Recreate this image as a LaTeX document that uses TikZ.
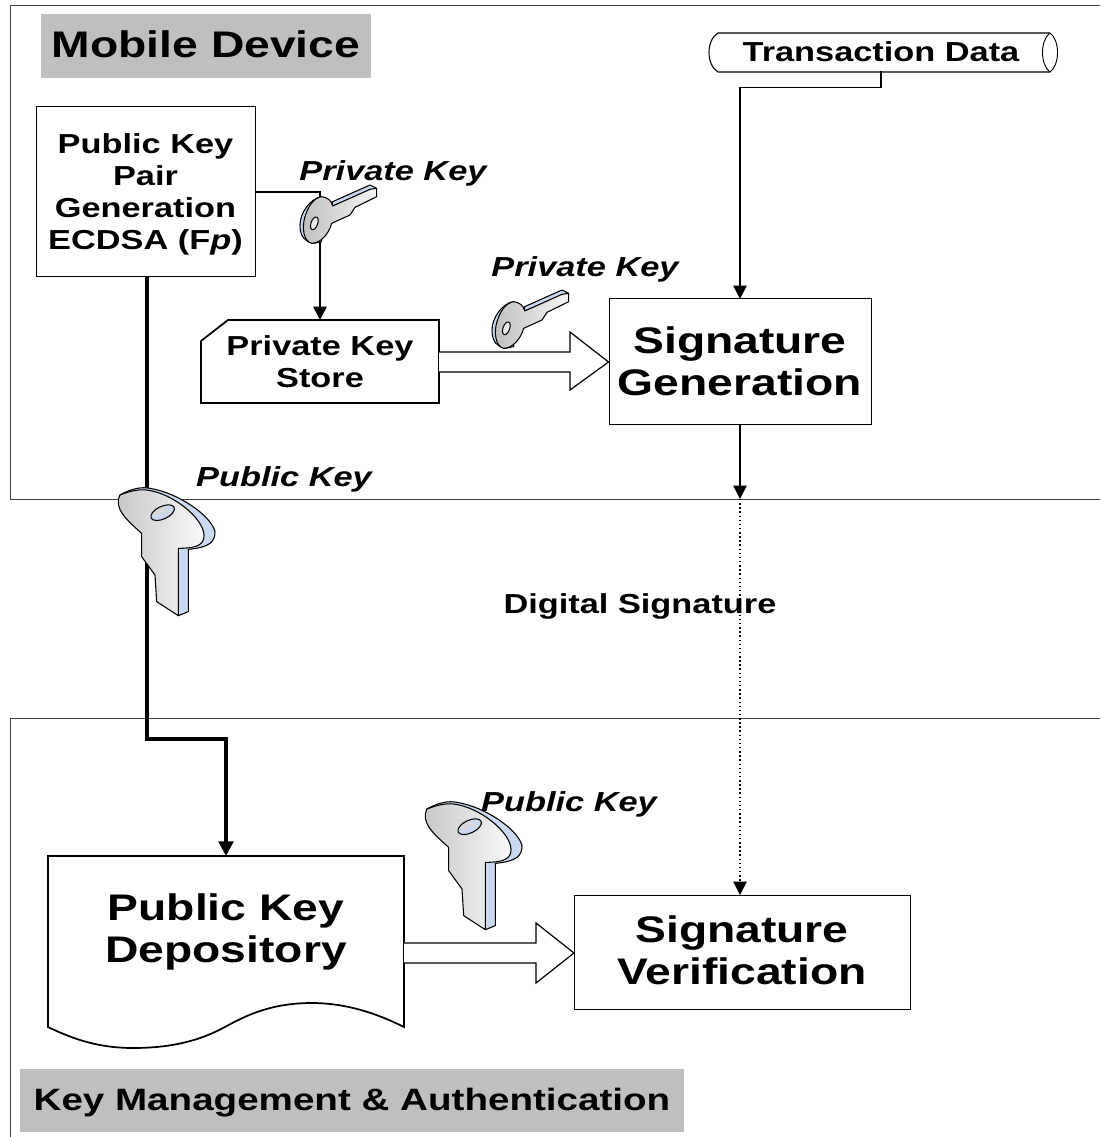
\documentclass[tikz,border=0pt]{standalone}
\usepackage{fontspec}
\setmainfont[FakeStretch=1.25]{Liberation Sans}
\usetikzlibrary{arrows.meta,calc}
\definecolor{keyblue}{HTML}{CBD9F0}
\definecolor{labelgrey}{HTML}{BFBFBF}
\definecolor{framegrey}{HTML}{404040}
\tikzset{
  every node/.style={font=\bfseries,align=center,inner sep=0pt,outer sep=0pt},
  small/.style={font=\fontsize{20.6pt}{24pt}\selectfont\bfseries},
  large/.style={font=\fontsize{27.75pt}{31.5pt}\selectfont\bfseries},
  itl/.style={font=\fontsize{20.6pt}{24pt}\selectfont\bfseries\itshape},
  boxed/.style={draw=black,line width=.75pt,fill=white},
  heavybox/.style={draw=black,line width=1.3pt,fill=white,line join=miter},
  frameline/.style={draw=framegrey,line width=.6pt},
  arr/.style={draw=black,line width=1.3pt,-{Triangle[length=10pt,width=10pt]}},
  thickarr/.style={draw=black,line width=2.6pt,-{Triangle[length=11pt,width=11pt]}},
  plain/.style={draw=black,line width=.8pt},
  blockarrow/.style={draw=black,line width=.9pt,fill=white,line join=miter},
  keyline/.style={draw=black,line width=.8pt,line join=round},
  bigkey/.pic={
    \begin{scope}[x=.25pt,y=-.25pt]
      \path[keyline,fill=keyblue] (60,105) .. controls (95,85) and (125,80) .. (150,85)
        .. controls (240,100) and (335,170) .. (345,215)
        .. controls (345,245) and (330,262) .. (265,268)
        -- (265,455) -- (235,467) -- (235,265) -- cycle;
      \path[keyline,left color=gray!45,right color=gray!5]
        (60,105) .. controls (95,90) and (125,88) .. (140,90)
        .. controls (220,100) and (310,175) .. (312,225)
        .. controls (312,250) and (300,265) .. (235,265)
        -- (235,467) -- (170,425) -- (165,345) -- (125,290) -- (125,220)
        .. controls (80,180) and (40,145) .. cycle;
      \path[fill=keyblue,rotate around={25:(188,158)}] (188,158) ellipse [x radius=38,y radius=19];
      \path[fill=gray!30] (152,146) .. controls (165,128) and (195,135) .. (215,165)
        .. controls (195,150) and (175,150) .. (175,170) .. controls (160,165) and (150,155) .. cycle;
      \path[draw=black,line width=.8pt,rotate around={25:(188,158)}] (188,158) ellipse [x radius=38,y radius=19];
    \end{scope}
  },
  smallkey/.pic={
    \begin{scope}[x=.25pt,y=-.25pt]
      \path[keyline,fill=keyblue] (248,125) -- (360,75) -- (380,85) -- (248,138) -- cycle;
      \path[keyline,fill=keyblue] (215,110) .. controls (180,115) and (150,160) .. (150,195)
        .. controls (150,230) and (165,245) .. (190,250) -- (215,245) -- cycle;
      \path[keyline,left color=gray!50,right color=gray!8]
        (215,110) .. controls (230,112) and (245,120) .. (248,138)
        -- (360,88) -- (380,85) -- (380,110) -- (315,142) -- (300,165) -- (245,190)
        .. controls (235,225) and (210,250) .. (185,250)
        .. controls (160,245) and (155,200) .. (165,170)
        .. controls (175,135) and (195,112) .. cycle;
      \path[keyline,fill=gray!15,rotate around={-20:(193,190)}] (193,190) ellipse [x radius=10,y radius=20];
    \end{scope}
  }
}
\begin{document}
\begin{tikzpicture}[x=.75pt,y=-.75pt]
\useasboundingbox (0,0) rectangle (1100,1137);
% frames
\draw[frameline] (1100,5) -- (10,5) -- (10,499) -- (1100,499);
\draw[frameline] (1100,718) -- (10,718) -- (10,1137);
% grey labels
\fill[labelgrey] (41,14) rectangle (371,78);
\node[font=\fontsize{27.75pt}{31.5pt}\selectfont\bfseries] (mobile) at (206,44) {Mobile Device};
\fill[labelgrey] (20,1069) rectangle (684,1132);
\node[font=\fontsize{23.15pt}{27pt}\selectfont\bfseries] (kma) at (352,1103) {Key Management \& Authentication};
% nodes
\node[boxed,small,minimum width=164.25pt,minimum height=127.5pt] (pk) at (145.5,192) {\rule{0pt}{18pt}Public Key\\Pair\\Generation\\ECDSA (F\textit{p})};
\node[boxed,large,minimum width=196.5pt,minimum height=93.75pt] (sg) at (740,361.5) {Signature\\Generation};
\node[boxed,large,minimum width=252pt,minimum height=85.5pt] (sv) at (742,952) {Signature\\Verification\rule[-3pt]{0pt}{3pt}};
% transaction data
\path[plain,fill=white] (1050,33) -- (718,33) .. controls (706,40) and (706,65) .. (718,72) -- (1050,72);
\draw[plain,line width=.7pt] (1050,33) .. controls (1060,40) and (1060,65) .. (1050,72) .. controls (1040,65) and (1040,40) .. (1050,33);
\node[small,minimum width=264pt,minimum height=29.25pt] (tx) at (881,52) {Transaction Data};
% private key store
\path[heavybox] (228,320) -- (439,320) -- (439,403) -- (201,403) -- (201,341) -- cycle;
\node[small,minimum width=178.5pt,minimum height=62.25pt] (store) at (320,361.5) {Private Key\\Store};
% depository
\path[heavybox] (48,856) -- (404,856) -- (404,1027)
  .. controls (370,1010) and (340,1003) .. (312,1003)
  .. controls (270,1003) and (245,1016) .. (223,1028)
  .. controls (195,1043) and (165,1048) .. (133,1048)
  .. controls (100,1048) and (75,1040) .. (48,1027) -- cycle;
\node[large,minimum width=267pt,minimum height=114pt] (dep) at (226,932) {Public Key\\Depository};
% block arrows
\path[blockarrow] (439,352) -- (570,352) -- (570,332) -- (608.5,362) -- (570,390) -- (570,372) -- (439,372);
\path[blockarrow] (404,943) -- (536,943) -- (536,923) -- (574,953) -- (536,983) -- (536,963) -- (404,963);
% connectors
\coordinate (mb) at (740,499);
\coordinate (svtop) at (740,895);
\draw[arr] (tx.south) -- ++(0,16) -| (sg.north);
\draw[arr] (sg.south) -- (mb);
\draw[draw=black,line width=1.1pt,dotted,-{Triangle[length=10pt,width=10pt]}] (mb) -- (svtop);
\draw[arr] (pk.east) -| (store.north);
\draw[thickarr] (pk.south -| 147,0) -- (147,739) -| (dep.north);
% keys
\pic at (100,460) {bigkey};
\pic at (407,774) {bigkey};
\pic at (250,160) {smallkey};
\pic at (442,265) {smallkey};
% key labels
\node[itl] (lblpriv1) at (393,173) {Private Key};
\node[itl] (lblpriv2) at (585,269) {Private Key};
\node[itl] (lblpub1) at (284,479) {Public Key};
\node[itl] (lblpub2) at (569,804) {Public Key};
\node[small] (lblsig) at (640,606) {Digital Signature};
\end{tikzpicture}
\end{document}
